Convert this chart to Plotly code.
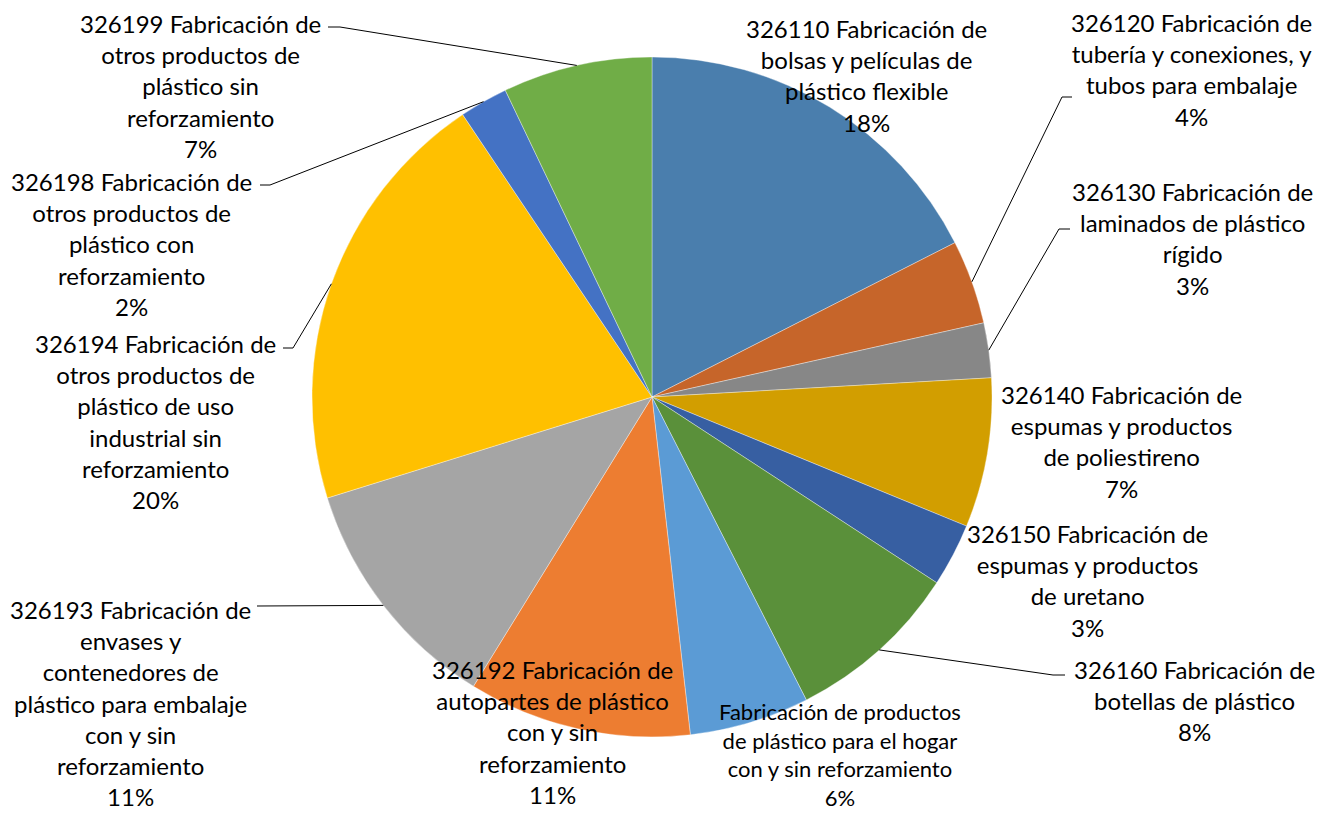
import math
import plotly.graph_objects as go

# ---------------- data ----------------
categories = [
    "326110 Fabricación de bolsas y películas de plástico flexible",
    "326120 Fabricación de tubería y conexiones, y tubos para embalaje",
    "326130 Fabricación de laminados de plástico rígido",
    "326140 Fabricación de espumas y productos de poliestireno",
    "326150 Fabricación de espumas y productos de uretano",
    "326160 Fabricación de botellas de plástico",
    "Fabricación de productos de plástico para el hogar con y sin reforzamiento",
    "326192 Fabricación de autopartes de plástico con y sin reforzamiento",
    "326193 Fabricación de envases y contenedores de plástico para embalaje con y sin reforzamiento",
    "326194 Fabricación de otros productos de plástico de uso industrial sin reforzamiento",
    "326198 Fabricación de otros productos de plástico con reforzamiento",
    "326199 Fabricación de otros productos de plástico sin reforzamiento",
]
values = [17.5, 4.0, 2.6, 7.1, 3.0, 8.3, 5.7, 10.6, 11.4, 20.4, 2.3, 7.1]

label_lines = [
    "326110 Fabricación de<br>bolsas y películas de<br>plástico flexible",
    "326120 Fabricación de<br>tubería y conexiones, y<br>tubos para embalaje",
    "326130 Fabricación de<br>laminados de plástico<br>rígido",
    "326140 Fabricación de<br>espumas y productos<br>de poliestireno",
    "326150 Fabricación de<br>espumas y productos<br>de uretano",
    "326160 Fabricación de<br>botellas de plástico",
    "Fabricación de productos<br>de plástico para el hogar<br>con y sin reforzamiento",
    "326192 Fabricación de<br>autopartes de plástico<br>con y sin<br>reforzamiento",
    "326193 Fabricación de<br>envases y<br>contenedores de<br>plástico para embalaje<br>con y sin<br>reforzamiento",
    "326194 Fabricación de<br>otros productos de<br>plástico de uso<br>industrial sin<br>reforzamiento",
    "326198 Fabricación de<br>otros productos de<br>plástico con<br>reforzamiento",
    "326199 Fabricación de<br>otros productos de<br>plástico sin<br>reforzamiento",
]

colors = ["#4A7EAD", "#C6652A", "#878787", "#D29E00", "#375FA2", "#5A903A",
          "#5B9BD5", "#ED7D31", "#A5A5A5", "#FFC000", "#4472C4", "#70AD47"]

# ---------------- layout (pixels, in page/screenshot coordinates) ----------------
W, H = 1331, 813
OFF = 8  # page body margin: the figure starts 8px from the window's top-left
CX, CY, R = 652, 397, 340

# label block centres (px)
label_pos = [(866, 76), (1191, 70), (1192, 239), (1121, 441), (1087, 580), (1194, 700),
             (840, 754), (552, 732), (130, 703), (155, 421), (132, 244), (201, 86)]
label_size = [24, 24, 24, 24, 24, 24, 22, 24, 24, 24, 24, 24]

# leader line: elbow point and stub end (px) for labels that have one
leaders = {
    1: ((1062, 97), (1072, 97)),
    2: ((1059, 229), (1070, 229)),
    5: ((1053, 675), (1065, 675)),
    8: ((257, 606), (257, 606)),
    9: ((293, 348), (283, 348)),
    10: ((270, 185), (260, 185)),
    11: ((340, 27), (328, 27)),
}


def px(x):
    return (x - OFF) / W


def py(y):
    return 1 - (y - OFF) / H


total = sum(values)
pcts = [int(v * 100 / total + 0.5 + 1e-9) for v in values]

fig = go.Figure()
fig.add_trace(go.Pie(
    labels=categories,
    values=values,
    sort=False,
    direction="clockwise",
    rotation=0,
    textinfo="none",
    hoverinfo="label+percent",
    marker=dict(colors=colors, line=dict(color="rgba(255,255,255,0.6)", width=0.6)),
    domain=dict(x=[px(CX - R), px(CX + R)], y=[py(CY + R), py(CY - R)]),
    showlegend=False,
))

annotations = []
for i, (txt, (lx, ly), fs) in enumerate(zip(label_lines, label_pos, label_size)):
    annotations.append(dict(
        x=px(lx), y=py(ly), xref="paper", yref="paper",
        text=f"{txt}<br>{pcts[i]}%", showarrow=False,
        xanchor="center", yanchor="middle", align="center",
        font=dict(family="Lato, Carlito, sans-serif", size=fs, color="#000000"),
    ))

shapes = []
cum = 0.0
for i, v in enumerate(values):
    mid = (cum + v / 2) / total * 2 * math.pi
    cum += v
    if i in leaders:
        sx = CX + R * math.sin(mid)
        sy = CY - R * math.cos(mid)
        (ex, ey), (tx, ty) = leaders[i]
        shapes.append(dict(type="line", xref="paper", yref="paper",
                           x0=px(sx), y0=py(sy), x1=px(ex), y1=py(ey),
                           line=dict(color="#000000", width=1)))
        if (ex, ey) != (tx, ty):
            shapes.append(dict(type="line", xref="paper", yref="paper",
                               x0=px(ex), y0=py(ey), x1=px(tx), y1=py(ty),
                               line=dict(color="#000000", width=1)))

fig.update_layout(
    width=W, height=H,
    margin=dict(l=0, r=0, t=0, b=0),
    paper_bgcolor="white",
    plot_bgcolor="white",
    annotations=annotations,
    shapes=shapes,
)

fig.write_html("out.html")
